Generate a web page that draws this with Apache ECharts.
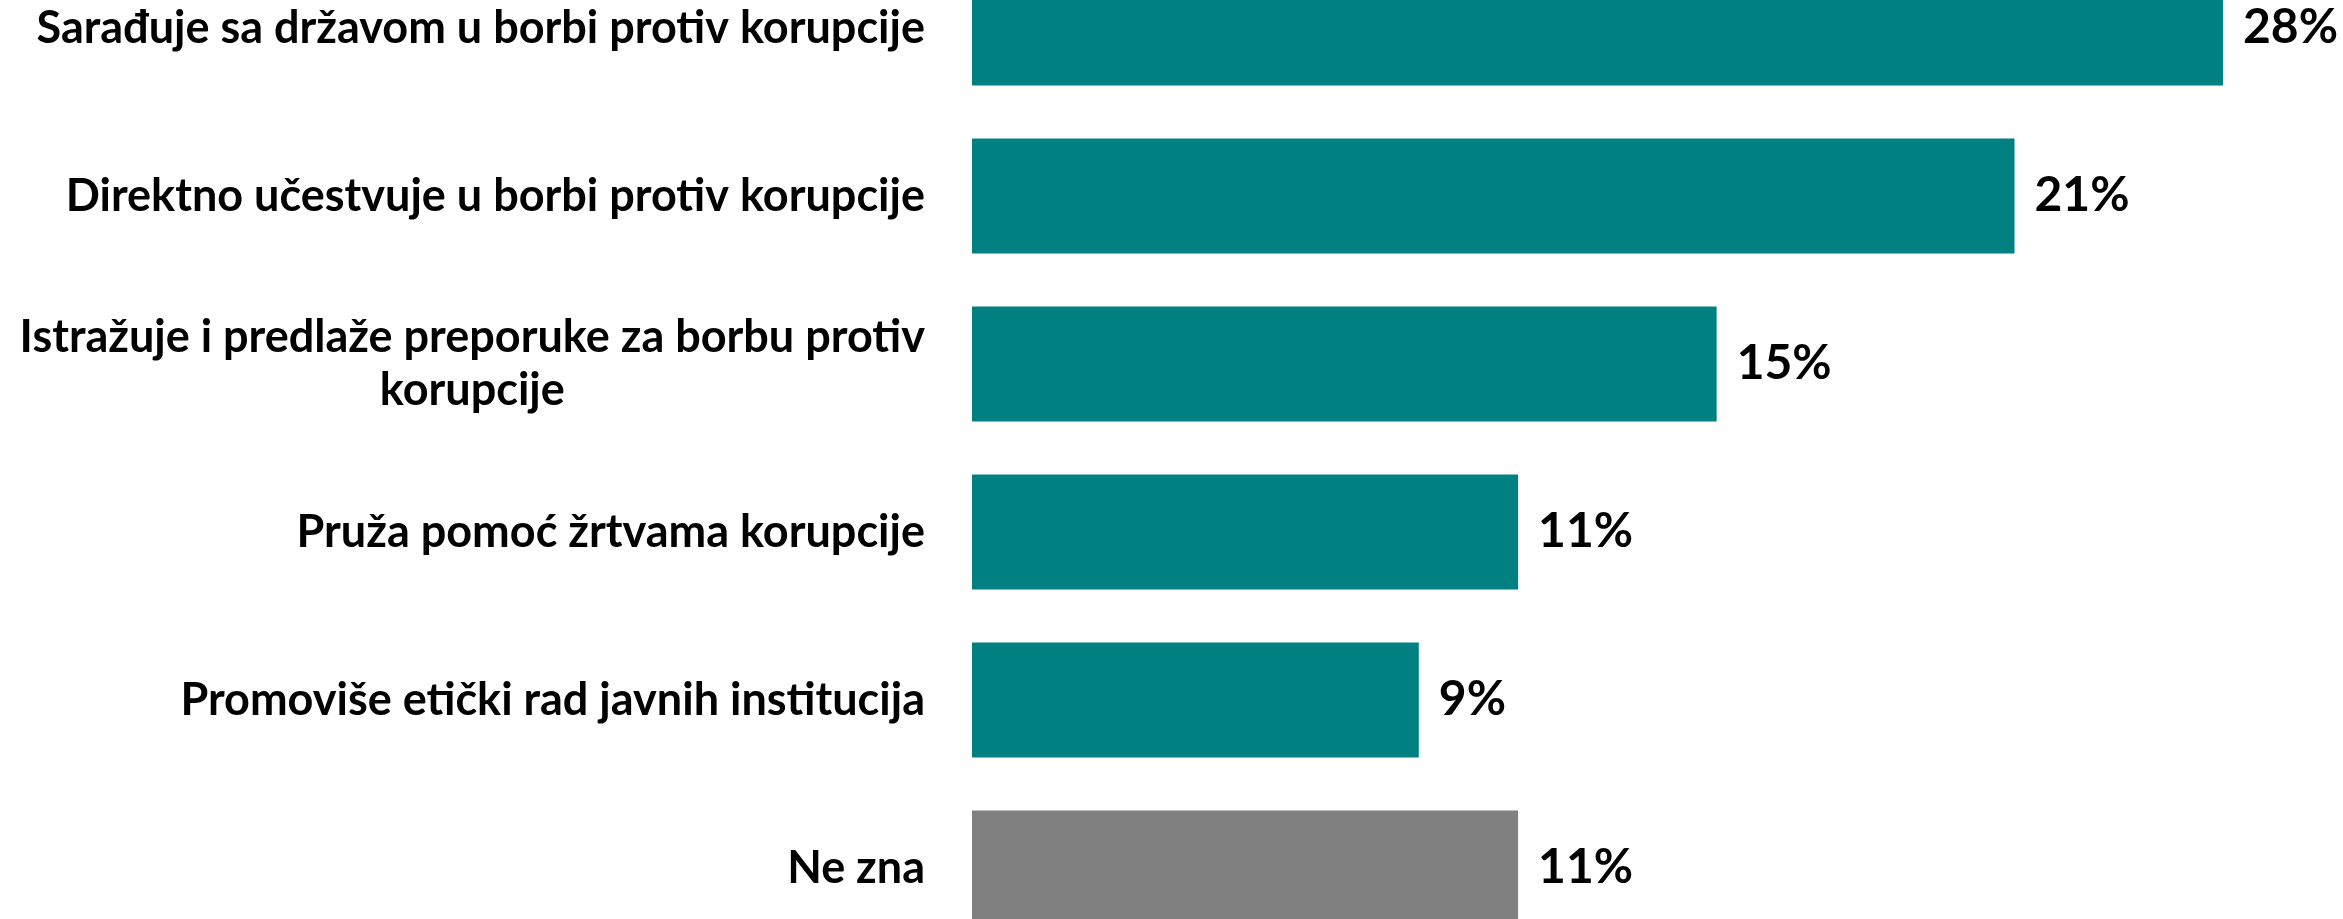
<!DOCTYPE html>
<html>
<head>
<meta charset="utf-8">
<title>Uloga</title>
<script src="https://cdn.jsdelivr.net/npm/echarts@6/dist/echarts.min.js"></script>
<style>
  html, body { margin: 0; padding: 0; background: #fff; }
  #chart { width: 2343px; height: 919px; }
</style>
</head>
<body>
<div id="chart"></div>
<script>
// kategorije (odozgo nadole)
const categories = [
  'Sarađuje sa državom u borbi protiv korupcije',
  'Direktno učestvuje u borbi protiv korupcije',
  'Istražuje i predlaže preporuke za borbu protiv\nkorupcije',
  'Pruža pomoć žrtvama korupcije',
  'Promoviše etički rad javnih institucija',
  'Ne zna'
]

// procenti
const values = [28, 21, 15, 11, 9, 11]

const TEAL = '#008080'
const GRAY = '#808080'

const chart = echarts.init(document.getElementById('chart'))

chart.setOption({
  animation: false,
  grid: {
    left: 972,
    right: 120,
    top: -56,
    bottom: -33,
    outerBoundsMode: 'none'
  },
  xAxis: {
    type: 'value',
    min: 0,
    max: 25.2,
    show: false
  },
  yAxis: {
    type: 'category',
    data: categories,
    inverse: true,
    axisLine: { show: false },
    axisTick: { show: false },
    axisLabel: {
      margin: 47,
      formatter: v => v.split('\n').map(s => '{c|' + s + '}').join('\n'),
      rich: {
        c: {
          align: 'center',
          fontFamily: 'Lato',
          fontWeight: 'bold',
          fontSize: 45,
          lineHeight: 53,
          color: '#000'
        }
      }
    }
  },
  series: [{
    type: 'bar',
    data: values,
    barCategoryGap: '31.5%',
    clip: true,
    itemStyle: {
      color: p => (categories[p.dataIndex] === 'Ne zna' ? GRAY : TEAL)
    },
    label: {
      show: true,
      position: 'right',
      distance: 20,
      formatter: '{c}%',
      fontFamily: 'Lato',
      fontWeight: 'bold',
      fontSize: 48,
      color: '#000'
    }
  }]
})
</script>
</body>
</html>
